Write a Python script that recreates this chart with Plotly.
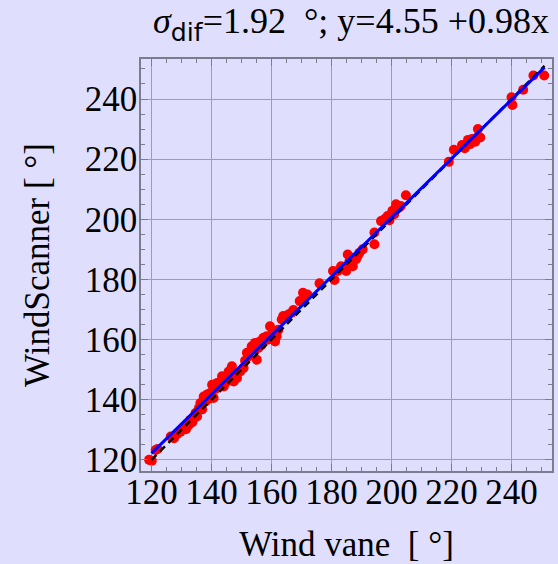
import plotly.graph_objects as go

# Wind direction pairs: wind vane (x) vs. WindScanner (y), degrees
vane = [
    119.2, 120.1, 121.4, 122.0, 126.4, 127.5, 129.7, 128.6, 130.8, 131.5,
    132.5, 133.0, 133.6, 134.1, 134.7, 135.2, 135.8, 136.3, 136.9, 137.4,
    138.0, 138.5, 139.1, 139.6, 140.7, 140.2, 141.3, 141.9, 142.4, 143.5,
    143.0, 144.1, 145.7, 145.2, 146.8, 146.3, 147.4, 148.0, 148.5, 149.6,
    150.7, 151.2, 151.8, 152.3, 152.9, 153.4, 154.0, 154.5, 155.1, 155.6,
    156.2, 156.7, 157.3, 157.8, 158.4, 158.9, 159.5, 160.1, 160.6, 161.2,
    161.7, 162.3, 163.4, 163.9, 164.5, 165.6, 166.7, 167.3, 169.4, 170.5,
    170.5, 172.0, 176.0, 180.5, 181.0, 182.1, 183.2, 184.3, 184.9, 185.4,
    186.0, 186.5, 187.1, 187.6, 188.2, 188.7, 189.3, 190.4, 194.3, 194.3,
    196.5, 197.6, 198.7, 199.3, 200.3, 200.9, 201.5, 202.5, 203.1, 204.8,
    219.1, 220.8, 223.5, 224.4, 225.5, 226.2, 226.8, 227.3, 227.9, 228.5,
    228.8, 229.6, 240.0, 240.3, 243.9, 247.3, 250.9,
]
scanner = [
    120.0, 119.7, 123.3, 123.6, 127.8, 127.2, 129.4, 128.6, 130.6, 130.2,
    131.7, 133.3, 132.5, 133.9, 135.6, 134.4, 137.2, 138.9, 136.8, 141.1,
    139.4, 141.7, 140.3, 142.2, 140.6, 145.0, 143.6, 145.6, 145.0, 147.8,
    146.0, 144.4, 149.4, 146.1, 151.1, 146.7, 146.1, 148.3, 147.2, 149.4,
    150.6, 153.0, 155.6, 154.4, 156.1, 157.8, 156.7, 158.9, 153.3, 157.2,
    159.4, 158.3, 160.6, 159.7, 161.1, 160.0, 164.4, 161.7, 162.8, 159.4,
    161.1, 163.3, 166.7, 167.8, 167.2, 168.3, 168.9, 169.8, 172.8, 175.6,
    173.3, 175.0, 178.7, 182.8, 179.8, 182.8, 184.4, 183.9, 182.8, 188.3,
    186.1, 185.0, 184.4, 187.2, 186.7, 187.8, 188.9, 190.0, 195.6, 191.7,
    199.4, 200.0, 201.1, 199.7, 202.8, 201.7, 205.0, 203.9, 204.4, 208.0,
    219.1, 223.1, 224.7, 223.6, 226.4, 225.0, 226.7, 226.1, 225.8, 227.2,
    230.0, 227.2, 240.6, 238.0, 243.1, 247.8, 247.8,
]

# Linear fit reported in the title
intercept = 4.55
slope = 0.98
sigma_dif = 1.92
line_x = [120.0, 251.0]

x_ticks = [120, 140, 160, 180, 200, 220, 240]
y_ticks = [120, 140, 160, 180, 200, 220, 240]

bg = "#dfdffd"
grid = "#9c9cb2"
axis_col = "#7c7c90"
serif = "Liberation Serif"
fsize = 35

fit_y = [intercept + slope * v for v in line_x]

fig = go.Figure()
fig.add_trace(go.Scatter(
    x=vane, y=scanner, mode="markers",
    marker=dict(color="#ff0000", size=10, line=dict(width=0)),
    showlegend=False,
))
fig.add_trace(go.Scatter(
    x=line_x, y=line_x, mode="lines",
    line=dict(color="black", width=2.5, dash="7px,5px"),
    showlegend=False,
))
fig.add_trace(go.Scatter(
    x=line_x, y=fit_y, mode="lines",
    line=dict(color="#0000ff", width=3),
    showlegend=False,
))

axis_common = dict(
    showgrid=True, gridcolor=grid, gridwidth=1,
    zeroline=False,
    showline=True, linecolor=axis_col, linewidth=1.5, mirror="allticks",
    ticks="inside", ticklen=7, tickcolor=axis_col, tickwidth=1,
    minor=dict(ticks="inside", ticklen=4, tickcolor=axis_col, dtick=5,
               showgrid=False),
    tickfont=dict(family=serif, size=fsize, color="black"),
)

fig.update_xaxes(
    range=[116.5, 253.5], tickvals=x_ticks,
    ticklabelstandoff=-11,
    title=dict(text="Wind vane  [ °]", font=dict(family=serif, size=fsize, color="black"),
               standoff=22),
    **axis_common,
)
fig.update_yaxes(
    range=[116.3, 253.3], tickvals=y_ticks,
    ticklabelstandoff=-5,
    title=dict(text="WindScanner [ °]", font=dict(family=serif, size=fsize, color="black"),
               standoff=25),
    **axis_common,
)

title_text = (
    "<i>σ</i><sub><span style=\"font-family:'DejaVu Sans'\">dif</span></sub>"
    f"={sigma_dif:.2f}  °; y={intercept:.2f} +{slope:.2f}x"
)
fig.add_annotation(
    text=title_text, xref="paper", yref="paper", x=0.51, y=1.0,
    xanchor="center", yanchor="bottom", yshift=10, showarrow=False,
    font=dict(family=serif, size=36, color="black"),
)

fig.update_layout(
    width=558, height=564,
    margin=dict(l=141, r=4, t=59, b=93),
    paper_bgcolor=bg, plot_bgcolor=bg,
)

fig.write_html("out.html")
